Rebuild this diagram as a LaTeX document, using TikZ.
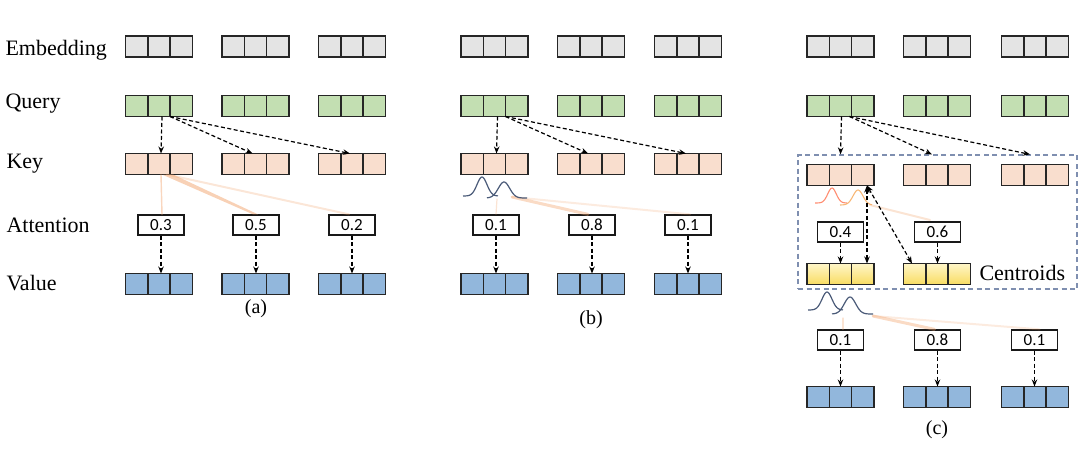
\documentclass[tikz,border=0pt]{standalone}
\usepackage{fontspec}
\setmainfont{Liberation Serif}
\newfontfamily\numfont{Carlito}
\usetikzlibrary{arrows.meta,calc}
\definecolor{embc}{HTML}{E4E4E4}
\definecolor{qc}{HTML}{C3DFB2}
\definecolor{kc}{HTML}{F9DECE}
\definecolor{vc}{HTML}{92B7DC}
\definecolor{orl}{HTML}{F2A46E}
\definecolor{gblue}{HTML}{4A5A78}
\definecolor{boxc}{HTML}{7F8FB0}
\definecolor{ctop}{HTML}{FFF6C8}
\definecolor{cbot}{HTML}{F8DC62}
\begin{document}
\begin{tikzpicture}[x=1pt,y=-1pt,
  vec/.style={draw=black!85, line width=1.4pt, minimum width=67pt, minimum height=21pt, inner sep=0pt, outer sep=0pt,
    path picture={\draw[line width=1.4pt, black!85]
      ([xshift=22.33pt]path picture bounding box.south west) -- ([xshift=22.33pt]path picture bounding box.north west)
      ([xshift=-22.33pt]path picture bounding box.south east) -- ([xshift=-22.33pt]path picture bounding box.north east);}},
  emb/.style={vec, fill=embc},
  qry/.style={vec, fill=qc},
  key/.style={vec, fill=kc},
  val/.style={vec, fill=vc},
  cen/.style={vec, top color=ctop, bottom color=cbot},
  att/.style={draw=black!90, fill=white, line width=1.3pt, minimum width=46pt, minimum height=20pt, inner sep=0pt, font=\numfont\fontsize{17}{19}\selectfont},
  lab/.style={anchor=base west, font=\fontsize{22}{24}\selectfont},
  captxt/.style={font=\fontsize{20}{22}\selectfont},
  darr/.style={line width=1.2pt, dash pattern=on 4pt off 2.5pt, -{Stealth[length=7pt,width=5.5pt]}},
  dbl/.style={line width=1.2pt, dash pattern=on 4pt off 2.5pt, {Stealth[length=7pt,width=5.5pt]}-{Stealth[length=7pt,width=5.5pt]}},
  orline/.style={orl, line cap=round},
  gauss/.style={line width=1.2pt, gblue, smooth},
]
\useasboundingbox (0,0) rectangle (1080,466);

% row labels
\node[lab] (lemb) at (2,55) {Embedding};
\node[lab] (lq) at (2,108) {Query};
\node[lab] (lk) at (3,168) {Key};
\node[lab] (latt) at (3,232) {Attention};
\node[lab] (lval) at (3,290) {Value};

% ---------------- panel (a)
\node[emb] (ea1) at (159,46.5) {};
\node[emb] (ea2) at (255.5,46.5) {};
\node[emb] (ea3) at (352,46.5) {};
\node[qry] (qa1) at (159,106) {};
\node[qry] (qa2) at (255.5,106) {};
\node[qry] (qa3) at (352,106) {};
\node[key] (ka1) at (159,164) {};
\node[key] (ka2) at (255.5,164) {};
\node[key] (ka3) at (352,164) {};
\node[val] (va1) at (159,284) {};
\node[val] (va2) at (255.5,284) {};
\node[val] (va3) at (352,284) {};
\node[att] (aa1) at (161,225) {0.3};
\node[att] (aa2) at (256,225) {0.5};
\node[att] (aa3) at (352,225) {0.2};
% orange attention lines
\fill[orl, opacity=0.5] ([xshift=3pt]ka1.south) -- ([xshift=14pt]ka1.south) -- ([xshift=2pt]aa2.north) -- ([xshift=-3pt]aa2.north) -- cycle;
\draw[orline, line width=1.4pt, opacity=0.45] ([xshift=2pt]ka1.south) -- ([xshift=1pt]aa1.north);
\draw[orline, line width=2pt, opacity=0.28] ([xshift=8pt]ka1.south) -- ([xshift=-3pt]aa3.north);
\draw[darr] ([xshift=3pt]qa1.south) -- ([xshift=2pt]ka1.north);
\draw[darr] ([xshift=11pt]qa1.south) -- ([xshift=-3pt]ka2.north);
\draw[darr] ([xshift=11pt]qa1.south) -- ([xshift=-2pt]ka3.north);
\draw[darr] (aa1.south) -- (aa1.south |- va1.north);
\draw[darr] (aa2.south) -- (aa2.south |- va2.north);
\draw[darr] (aa3.south) -- (aa3.south |- va3.north);
\node[captxt] (capa) at (256,309) {(a)};

% ---------------- panel (b)
\node[emb] (eb1) at (494.5,46.5) {};
\node[emb] (eb2) at (591,46.5) {};
\node[emb] (eb3) at (688,46.5) {};
\node[qry] (qb1) at (494.5,106) {};
\node[qry] (qb2) at (591,106) {};
\node[qry] (qb3) at (688,106) {};
\node[key] (kb1) at (494.5,164) {};
\node[key] (kb2) at (591,164) {};
\node[key] (kb3) at (688,164) {};
\node[val] (vb1) at (494.5,284) {};
\node[val] (vb2) at (591,284) {};
\node[val] (vb3) at (688,284) {};
\node[att] (ab1) at (496,225) {0.1};
\node[att] (ab2) at (592,225) {0.8};
\node[att] (ab3) at (688,225) {0.1};
\coordinate (gb) at (512,197);
\draw[orline, line width=3pt, opacity=0.4] (gb) -- ([xshift=-4pt]ab2.north);
\draw[orline, line width=2pt, opacity=0.22] (gb) -- ([xshift=2pt]ab3.north);
\draw[orline, line width=1.2pt, opacity=0.3] (497,199) -- (ab1.north);
\draw[gauss] plot[domain=463:498, samples=40] (\x, {196-19*exp(-((\x-482)/7)^2)});
\draw[gauss] plot[domain=487:527, samples=40] (\x, {198-16*exp(-((\x-504)/8)^2)});
\draw[darr] ([xshift=3pt]qb1.south) -- ([xshift=2pt]kb1.north);
\draw[darr] ([xshift=11pt]qb1.south) -- ([xshift=-3pt]kb2.north);
\draw[darr] ([xshift=11pt]qb1.south) -- ([xshift=-2pt]kb3.north);
\draw[darr] (ab1.south) -- (ab1.south |- vb1.north);
\draw[darr] (ab2.south) -- (ab2.south |- vb2.north);
\draw[darr] (ab3.south) -- (ab3.south |- vb3.north);
\node[captxt] (capb) at (591,320) {(b)};

% ---------------- panel (c)
\node[draw=boxc, line width=1.2pt, dash pattern=on 5pt off 3.5pt, minimum width=279pt, minimum height=134pt, inner sep=0pt] (cbox) at (937.5,222) {};
\node[emb] (ec1) at (840.5,46.5) {};
\node[emb] (ec2) at (937,46.5) {};
\node[emb] (ec3) at (1035,46.5) {};
\node[qry] (qc1) at (840.5,106) {};
\node[qry] (qc2) at (937,106) {};
\node[qry] (qc3) at (1035,106) {};
\node[key] (kc1) at (840.5,175) {};
\node[key] (kc2) at (937,175) {};
\node[key] (kc3) at (1035,175) {};
\node[cen] (cc1) at (840.5,274) {};
\node[cen] (cc2) at (937,274) {};
\node[anchor=west, font=\fontsize{22}{24}\selectfont] (centl) at (976,273) {Centroids};
\node[val] (vc1) at (840.5,397) {};
\node[val] (vc2) at (937,397) {};
\node[val] (vc3) at (1035,397) {};
\node[att] (ac1) at (840.5,232) {0.4};
\node[att] (ac2) at (937.5,232) {0.6};
\node[att] (ac3) at (840.5,340) {0.1};
\node[att] (ac4) at (937.5,340) {0.8};
\node[att] (ac5) at (1034.5,340) {0.1};
% orange curves and lines in box
\draw[orline, line width=2pt, opacity=0.3] (870,205) -- (930,220);
\draw[line width=1.1pt, red!60!orange!70, opacity=0.8, smooth] plot[domain=815:847, samples=40] (\x, {203-15*exp(-((\x-832)/6)^2)});
\draw[line width=1.1pt, orange!80!brown!70, opacity=0.8, smooth] plot[domain=840:872, samples=40] (\x, {205-15*exp(-((\x-858)/7)^2)});
% blue curves below box
\coordinate (gc) at (873,316);
\draw[orline, line width=3pt, opacity=0.4] (gc) -- ([xshift=-3pt]ac4.north);
\draw[orline, line width=2pt, opacity=0.22] (gc) -- ([xshift=5pt]ac5.north);
\draw[orline, line width=1.2pt, opacity=0.3] (843,318) -- ([xshift=2.5pt]ac3.north);
\draw[gauss] plot[domain=808:843, samples=40] (\x, {310-18*exp(-((\x-827)/7)^2)});
\draw[gauss] plot[domain=832:873, samples=40] (\x, {314-17*exp(-((\x-850)/8)^2)});
\coordinate (ct1) at (qc1.south |- cbox.north);
\coordinate (ct2) at ([xshift=-5pt]qc2.south |- cbox.north);
\coordinate (ct3) at ([xshift=-5pt]qc3.south |- cbox.north);
\draw[darr] ([xshift=1pt]qc1.south) -- (ct1);
\draw[darr] ([xshift=9pt]qc1.south) -- (ct2);
\draw[darr] ([xshift=9pt]qc1.south) -- (ct3);
\draw[darr] (ac1.south) -- (ac1.south |- cc1.north);
\draw[darr] (ac2.south) -- (ac2.south |- cc2.north);
\coordinate (kt) at ([xshift=-7pt]kc1.south east);
\draw[dbl] (kt) -- ([xshift=-7pt]cc1.north east);
\draw[dbl] (kt) -- ([xshift=-25pt]cc2.north);
\draw[darr] (ac3.south) -- (ac3.south |- vc1.north);
\draw[darr] (ac4.south) -- (ac4.south |- vc2.north);
\draw[darr] (ac5.south) -- (ac5.south |- vc3.north);
\node[captxt] (capc) at (937,430) {(c)};
\end{tikzpicture}
\end{document}
